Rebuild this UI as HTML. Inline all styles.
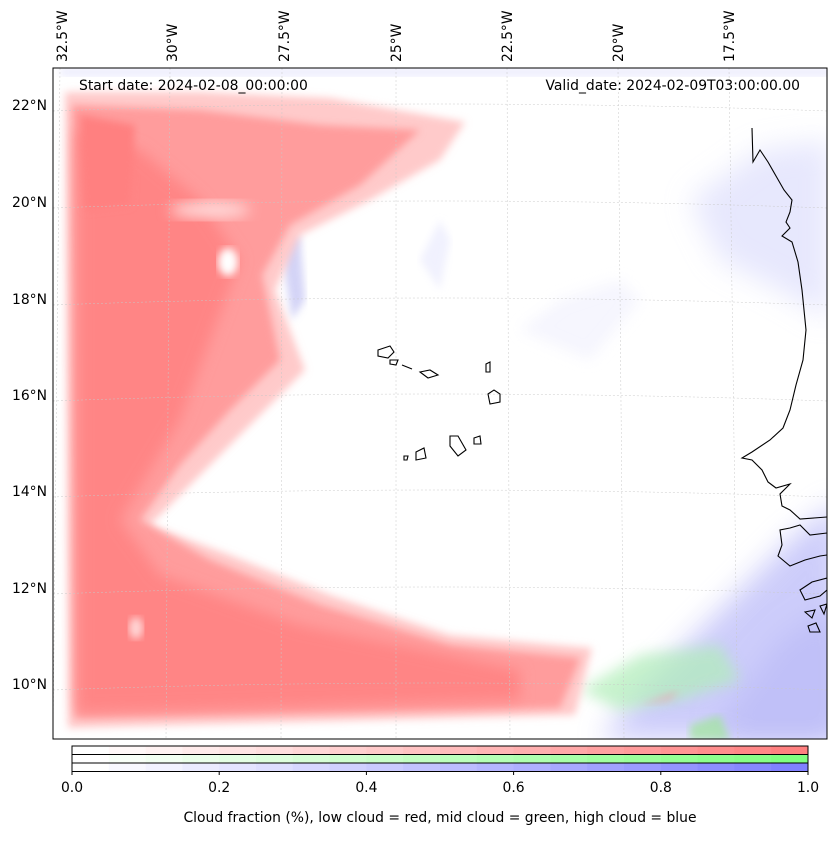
<!DOCTYPE html>
<html><head><meta charset="utf-8">
<style>
body{margin:0;background:#fff;font-family:"Liberation Sans","DejaVu Sans",sans-serif;}
svg text{font-family:"DejaVu Sans","Liberation Sans",sans-serif;font-size:13.9px;fill:#000}
</style></head>
<body>
<svg id="chart" width="837" height="836" viewBox="0 0 837 836" xmlns="http://www.w3.org/2000/svg">
<defs>
<filter id="blur8" x="-20%" y="-20%" width="140%" height="140%"><feGaussianBlur stdDeviation="7"/></filter>
<filter id="blur4"><feGaussianBlur stdDeviation="4"/></filter>
<filter id="blur14" x="-30%" y="-30%" width="160%" height="160%"><feGaussianBlur stdDeviation="14"/></filter>
<clipPath id="mapclip"><rect x="53" y="68" width="774" height="671"/></clipPath>
</defs>
<g clip-path="url(#mapclip)">
<rect x="53" y="68" width="774" height="671" fill="#fff"/>
<g opacity="0.5">
<path d="M600,740 L640,690 L720,610 L790,540 L840,500 L840,740 Z" fill="#9a9af6" filter="url(#blur14)"/>
<path d="M720,720 L780,640 L840,600 L840,740 L720,740 Z" fill="#8080f0" filter="url(#blur14)"/>
<path d="M690,200 L760,150 L830,140 L830,320 L780,290 L720,260 Z" fill="#cfd0fb" filter="url(#blur14)"/>
<path d="M60,68 L830,68 L830,76 L60,76 Z" fill="#d8d8fb" filter="url(#blur4)"/>
<path d="M420,260 L440,220 L450,240 L440,290 Z" fill="#e2e3fd" filter="url(#blur4)"/>
<path d="M520,330 L560,300 L620,280 L640,300 L590,360 Z" fill="#ececfd" filter="url(#blur8)"/>
<path d="M280,240 L300,235 L305,300 L292,320 Z" fill="#a8a8ee" filter="url(#blur4)"/>
</g>
<path d="M580,690 L640,655 L720,645 L740,680 L680,700 L620,710 Z" fill="#b0eeb8" opacity="0.7" filter="url(#blur8)"/>
<path d="M690,725 L720,715 L730,740 L690,740 Z" fill="#9fe59a" opacity="0.7" filter="url(#blur4)"/>
<g>
<path d="M65,92 L200,92 L330,98 L465,122 L440,160 L370,200 L300,235 L275,290 L305,370 L250,425 L200,475 L150,525 L230,555 L330,595 L450,635 L592,648 L575,715 L68,728 Z" fill="#ffcaca" filter="url(#blur4)"/>
<path d="M72,105 L200,110 L320,125 L420,130 L360,185 L290,225 L262,275 L280,360 L230,410 L180,465 L140,520 L210,560 L320,605 L450,645 L580,658 L560,708 L75,718 Z" fill="#ff9c9c" filter="url(#blur4)"/>
<path d="M78,130 L140,150 L200,200 L240,260 L180,420 L120,520 L160,575 L300,625 L520,670 L520,700 L78,712 Z" fill="#ff8585" filter="url(#blur8)"/>
<path d="M80,115 L135,125 L130,205 L85,210 Z" fill="#ff8080" filter="url(#blur4)"/>
<ellipse cx="228" cy="262" rx="10" ry="14" fill="#fff" filter="url(#blur4)"/>
<ellipse cx="136" cy="628" rx="7" ry="11" fill="#ffd6d6" filter="url(#blur4)"/>
<ellipse cx="210" cy="210" rx="40" ry="8" fill="#ffdcdc" filter="url(#blur8)"/>
</g>
<path d="M640,705 L680,690 L670,700 Z" fill="#f59aa8" opacity="0.6" filter="url(#blur4)"/>
<g stroke="#c8c8c8" stroke-width="0.5" stroke-dasharray="2,2" fill="none" id="grid"></g>
<g fill="none" stroke="#000" stroke-width="1.1">
<path d="M752,128 L753,162 L760,150 L768,162 L776,176 L784,190 L792,200 L790,212 L786,222 L790,228 L782,236 L792,242 L798,262 L802,290 L806,330 L803,360 L796,385 L790,410 L783,428 L770,440 L752,452 L742,458 L752,460 L762,470 L768,482 L776,488 L790,484 L780,494 L782,506 L790,510 L800,519 L827,517"/>
<path d="M827,533 L810,535 L800,525 L790,528 L780,530 L782,545 L778,556 L790,566 L805,560 L820,556 L827,555"/>
<path d="M827,578 L812,582 L800,590 L805,600 L820,596 L827,590"/>
<path d="M805,612 L815,610 L812,618 Z M808,626 L816,623 L820,632 L810,632 Z M820,606 L827,604 L824,614 Z"/>
<path d="M378,350 L390,346 L394,352 L388,358 L378,356 Z"/>
<path d="M390,360 L398,360 L396,365 L390,364 Z"/>
<path d="M420,372 L430,370 L438,375 L428,378 Z"/>
<path d="M486,364 L490,362 L490,372 L486,372 Z"/>
<path d="M488,394 L494,390 L500,394 L500,402 L490,404 Z"/>
<path d="M450,436 L458,436 L466,450 L458,456 L450,446 Z"/>
<path d="M474,438 L480,436 L481,444 L474,444 Z"/>
<path d="M416,452 L424,448 L426,458 L416,460 Z"/>
<path d="M404,456 L408,456 L407,460 L404,460 Z"/>
<path d="M402,365 L412,369 Z"/>
</g>
</g>
<rect x="53" y="68" width="774" height="671" fill="none" stroke="#000" stroke-width="1"/>
<text x="79" y="90">Start date: 2024-02-08_00:00:00</text>
<text x="800" y="90" text-anchor="end">Valid_date: 2024-02-09T03:00:00.00</text>
<g id="lonlabels"></g>
<g id="latlabels"></g>
<g id="colorbar"></g>
<text x="440" y="822" text-anchor="middle">Cloud fraction (%), low cloud = red, mid cloud = green, high cloud = blue</text>
</svg>
<script>
const lonLabels=["32.5°W","30°W","27.5°W","25°W","22.5°W","20°W","17.5°W"];
const lonTopX=[62,172,284,396,507,618,729];
const latLabels=["22°N","20°N","18°N","16°N","14°N","12°N","10°N"];
const latY=[105,202,299,395,491,588,684];
const cbTicks=[0.0,0.2,0.4,0.6,0.8,1.0];
const cbLevels=20;
const NS="http://www.w3.org/2000/svg";
function mk(t,a,p){const e=document.createElementNS(NS,t);for(const k in a)e.setAttribute(k,a[k]);p.appendChild(e);return e;}
const grid=document.getElementById('grid');
lonTopX.forEach((x,i)=>{const l=mk('line',{x1:x+(i<3?-2:0),y1:68,x2:x+(i-3)*3,y2:739},grid);

});
latY.forEach(y=>{const l=mk('path',{d:`M53,${y+6} Q440,${y-8} 827,${y+6}`},grid);

});
const lg=document.getElementById('lonlabels');
lonLabels.forEach((s,i)=>{const t=mk('text',{x:0,y:0,transform:`translate(${lonTopX[i]+5},62) rotate(-90)`},lg);t.textContent=s;

});
const la=document.getElementById('latlabels');
latLabels.forEach((s,i)=>{const t=mk('text',{x:47,y:latY[i]+5,'text-anchor':'end'},la);t.textContent=s;

});
const cb=document.getElementById('colorbar');
const x0=72,x1=808,w=x1-x0;
const cx=v=>x0+v*w;
const rows=[[255,128,128,746],[128,255,128,754.5],[128,128,255,763]];
rows.forEach(r=>{for(let k=0;k<cbLevels;k++){const f=k/(cbLevels-1);
const c=r.slice(0,3).map(v=>Math.round(255-(255-v)*f));
const rc=mk('rect',{x:cx(k/cbLevels),y:r[3],width:w/cbLevels+0.5,height:8.5,fill:`rgb(${c})`},cb);

}});
mk('rect',{x:x0,y:746,width:w,height:25.5,fill:'none',stroke:'#000','stroke-width':1},cb);
mk('line',{x1:x0,y1:754.5,x2:x1,y2:754.5,stroke:'#000'},cb);
mk('line',{x1:x0,y1:763,x2:x1,y2:763,stroke:'#000'},cb);
cbTicks.forEach(v=>{mk('line',{x1:cx(v),y1:771,x2:cx(v),y2:775,stroke:'#000'},cb);
const t=mk('text',{x:cx(v),y:792,'text-anchor':'middle'},cb);t.textContent=v.toFixed(1);

});
</script>
</body></html>
